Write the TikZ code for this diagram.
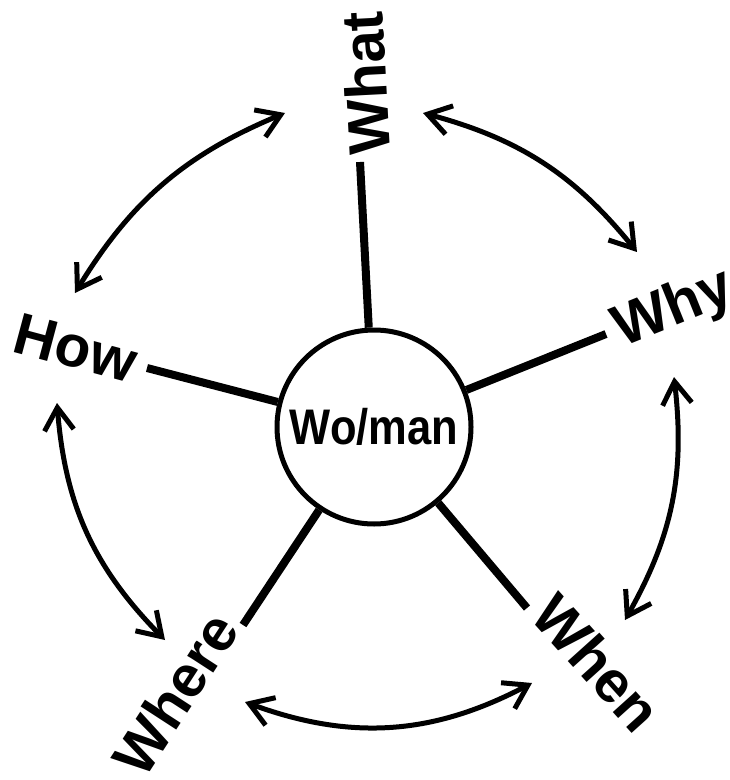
\documentclass[tikz,border=0pt]{standalone}
\usepackage{fontspec}
\setmainfont{Liberation Sans}
\usetikzlibrary{arrows.meta}
\tikzset{
  lab/.style={inner sep=0pt, outer sep=0pt, font=\fontsize{44}{48}\selectfont\bfseries},
  spoke/.style={line width=6pt},
  twoway/.style={line width=3.75pt, {Straight Barb[length=17pt,width=22pt]}-{Straight Barb[length=17pt,width=22pt]}},
}
\begin{document}
\begin{tikzpicture}[x=0.75pt,y=-0.75pt]
\useasboundingbox (0,0) rectangle (729,780);
\clip (0,0) rectangle (729,780);
\node[circle, draw, line width=3.75pt, minimum size=145.5pt, inner sep=0pt] (c) at (374,427)
  {\scalebox{0.87}[1]{\fontsize{37.5}{40}\selectfont\bfseries Wo/man}};
% spoke ends
\coordinate (eWhat) at (360,162);
\coordinate (eWhy) at (606,334);
\coordinate (eWhen) at (527,608);
\coordinate (eWhere) at (243,625);
\coordinate (eHow) at (147,368);
\draw[spoke] (c) -- (eWhat);
\draw[spoke] (c) -- (eWhy);
\draw[spoke] (c) -- (eWhen);
\draw[spoke] (c) -- (eWhere);
\draw[spoke] (c) -- (eHow);
% labels
\node[lab, rotate=93, anchor=base west] (what) at (390,154) {What};
\node[lab, rotate=22, anchor=base west] (why) at (622,347) {Why};
\node[lab, rotate=-48, anchor=base west] (when) at (528,617) {When};
\node[lab, rotate=57, anchor=base west] (where) at (144,780) {Where};
\node[lab, rotate=-15, anchor=base west] (how) at (11,351) {How};
% arrow tips
\coordinate (a2s) at (423,113); \coordinate (a2e) at (637,252);
\coordinate (a3s) at (674,377); \coordinate (a3e) at (625,620);
\coordinate (a4s) at (532,683); \coordinate (a4e) at (245,702);
\coordinate (a5s) at (165,640); \coordinate (a5e) at (57,403);
\coordinate (a1s) at (75,293);  \coordinate (a1e) at (285,113);
\draw[twoway] (a2s) to[bend left=18] (a2e);
\draw[twoway] (a3s) to[bend left=18] (a3e);
\draw[twoway] (a4s) to[bend left=24] (a4e);
\draw[twoway] (a5s) to[bend left=20] (a5e);
\draw[twoway] (a1s) to[bend left=18] (a1e);
\end{tikzpicture}
\end{document}
